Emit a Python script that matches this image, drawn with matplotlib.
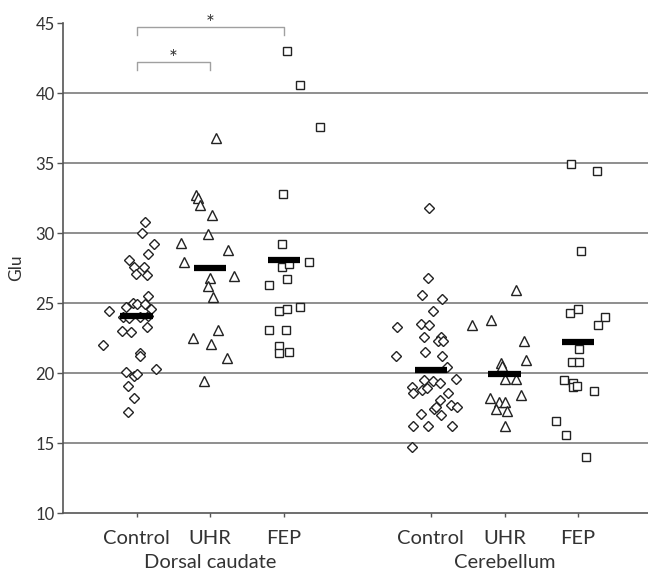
import matplotlib
matplotlib.use('Agg')
import matplotlib.pyplot as plt
import matplotlib.transforms as mtransforms

# ======== Data ========
categories = ['Control', 'UHR', 'FEP', 'Control', 'UHR', 'FEP']
regions = ['Dorsal caudate', 'Cerebellum']
positions = [1, 2, 3, 5, 6, 7]
group_centers = [2, 6]

# Dorsal caudate
dc_control_y = [30.8, 30.0, 29.2, 28.5, 28.1, 27.6, 27.6, 27.1, 27.0, 25.5, 24.4, 24.7,
                25.0, 24.9, 24.9, 24.6, 24.0, 23.9, 24.0, 24.1, 23.0, 22.9, 23.3, 22.0,
                21.4, 21.2, 20.1, 20.3, 19.8, 19.9, 19.1, 18.2, 17.2]
dc_control_dx = [0.12, 0.07, 0.23, 0.15, -0.10, -0.04, 0.10, -0.01, 0.14, 0.16, -0.37, -0.15,
                 -0.05, 0.01, 0.11, 0.19, -0.18, -0.10, 0.04, 0.15, -0.20, -0.07, 0.14, -0.45,
                 0.04, 0.04, -0.15, 0.27, -0.03, 0.00, -0.11, -0.03, -0.11]
dc_uhr_y = [36.8, 32.7, 32.5, 32.0, 31.3, 29.9, 29.3, 28.8, 27.9, 26.9, 26.8, 26.2,
            25.4, 23.1, 22.5, 22.1, 21.1, 19.4]
dc_uhr_dx = [0.08, -0.19, -0.16, -0.14, 0.03, -0.03, -0.39, 0.24, -0.35, 0.33, 0.00, -0.03,
             0.04, 0.11, -0.24, 0.01, 0.23, -0.08]
dc_fep_y = [43.0, 40.6, 37.6, 32.8, 29.2, 27.9, 27.6, 27.8, 26.3, 26.7, 24.4, 24.6,
            24.7, 23.1, 23.1, 21.9, 21.4, 21.5]
dc_fep_dx = [0.04, 0.22, 0.49, -0.01, -0.03, 0.34, -0.03, 0.07, -0.20, 0.04, -0.07, 0.04,
             0.22, -0.20, 0.03, -0.07, -0.07, 0.07]

# Cerebellum
cb_control_y = [31.8, 26.8, 25.6, 25.3, 24.4, 23.3, 23.5, 23.4, 22.6, 22.6, 22.3, 22.3,
                21.2, 21.5, 21.2, 20.4, 19.5, 19.45, 19.3, 19.6, 19.0, 18.55, 18.8, 18.95,
                18.1, 18.55, 17.7, 17.6, 17.4, 17.55, 17.0, 17.1, 16.2, 16.2, 16.2, 14.7]
cb_control_dx = [-0.03, -0.04, -0.12, 0.15, 0.03, -0.46, -0.14, -0.03, -0.10, 0.14, 0.10, 0.16,
                 -0.48, -0.08, 0.15, 0.22, -0.10, 0.03, 0.12, 0.34, -0.26, -0.24, -0.12, -0.05,
                 0.12, 0.23, 0.27, 0.35, 0.04, 0.07, 0.14, -0.14, -0.24, -0.04, 0.29, -0.26]
cb_uhr_y = [25.9, 23.4, 23.8, 22.3, 20.9, 20.7, 20.5, 19.55, 19.55, 18.4, 18.2, 17.9,
            17.9, 17.4, 17.3, 16.2]
cb_uhr_dx = [0.15, -0.44, -0.18, 0.26, 0.29, -0.05, -0.04, 0.01, 0.16, 0.22, -0.20, -0.07,
             0.00, -0.12, 0.04, 0.01]
cb_fep_y = [34.9, 34.4, 28.7, 24.3, 24.6, 24.0, 23.4, 21.7, 20.8, 20.8, 19.5, 19.3,
            19.0, 19.1, 18.7, 16.6, 15.6, 14.0]
cb_fep_dx = [-0.10, 0.26, 0.04, -0.11, 0.00, 0.37, 0.27, 0.01, -0.08, 0.01, -0.19, -0.07,
             -0.07, -0.01, 0.22, -0.30, -0.16, 0.11]

# group means (black bars)
means = [24.1, 27.5, 28.1, 20.2, 19.9, 22.2]

# significance brackets: (x1, x2, top, star)
brackets = [(1, 2, 42.2, '*'), (1, 3, 44.7, '*')]

groups = [
    (dc_control_y, dc_control_dx, 'D', 5.0),
    (dc_uhr_y, dc_uhr_dx, '^', 6.5),
    (dc_fep_y, dc_fep_dx, 's', 6.0),
    (cb_control_y, cb_control_dx, 'D', 5.0),
    (cb_uhr_y, cb_uhr_dx, '^', 6.5),
    (cb_fep_y, cb_fep_dx, 's', 6.0),
]

# ======== Style ========
plt.rcParams.update({'font.family': 'Lato', 'font.size': 10})

fig = plt.figure(figsize=(6.48, 5.75), dpi=100)
ax = fig.add_axes([63 / 648, 62 / 575, 585 / 648, 490 / 575])

for y in [15, 20, 25, 30, 35, 40]:
    ax.axhline(y, color='#707070', lw=1.1, zorder=1)

for pos, (ys, dxs, mk, ms) in zip(positions, groups):
    xs = [pos + d for d in dxs]
    ax.plot(xs, ys, ls='none', marker=mk, ms=ms, mfc='white', mec='#222222',
            mew=1.0, zorder=3)

ax.hlines(means, [p - 0.22 for p in positions], [p + 0.22 for p in positions],
          color='black', lw=4.5, zorder=4)

for x1, x2, top, star in brackets:
    ax.plot([x1, x1, x2, x2], [top - 0.55, top, top, top - 0.55], color='#a0a0a0',
            lw=1.0, clip_on=False, zorder=2)
    ax.text((x1 + x2) / 2, top + 0.25, star, ha='center', va='center', fontsize=15,
            color='#333333', clip_on=False)

ax.set_xlim(0, 7.95)
ax.set_ylim(10, 45)
ax.set_yticks(range(10, 46, 5))
ax.set_xticks(positions)
ax.set_xticklabels(categories, fontsize=14.5, color='#333333')
ax.tick_params(axis='x', length=3, width=1, color='#555555', pad=9)
ax.tick_params(axis='y', length=4, width=1, color='#555555', labelsize=12,
               labelcolor='#333333', pad=2)
ax.set_ylabel('Glu', fontsize=12.5, color='#333333', labelpad=8)

for s in ['top', 'right']:
    ax.spines[s].set_visible(False)
for s in ['left', 'bottom']:
    ax.spines[s].set_color('#555555')
    ax.spines[s].set_linewidth(1.2)

trans = mtransforms.blended_transform_factory(ax.transData, fig.transFigure)
for gx, name in zip(group_centers, regions):
    ax.text(gx, 4 / 575, name, transform=trans, ha='center', va='bottom',
            fontsize=14.5, color='#333333')

fig.savefig('out.png', dpi=100)
